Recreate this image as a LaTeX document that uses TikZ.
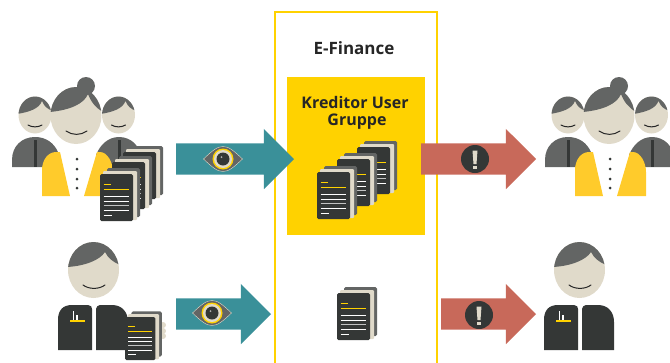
\documentclass[tikz,border=0pt]{standalone}
\usepackage{fontspec}
\setmainfont{Open Sans}
\usetikzlibrary{shapes.arrows}
\definecolor{bankyellow}{HTML}{FFD200}
\definecolor{jacketyellow}{HTML}{FFCB2B}
\definecolor{tealarrow}{HTML}{3A9099}
\definecolor{redarrow}{HTML}{C8695A}
\definecolor{cream}{HTML}{E0DACA}
\definecolor{midgray}{HTML}{636564}
\definecolor{darkgray}{HTML}{343736}
\tikzset{
	blockarrow/.style={single arrow,single arrow head extend=14.5pt,single arrow tip angle=90,
		minimum width=60pt,text height=0pt,text depth=0pt,text width=0pt,inner ysep=15.5pt,inner xsep=0pt,outer sep=0pt,anchor=tail},
	title/.style={font=\bfseries\fontsize{16}{20}\selectfont,text=black!85,inner sep=0pt},
	mouth/.style={draw=black!85,line width=1pt,line cap=round},
	docline/.style={draw=white,line width=1pt},
	docmark/.style={draw=bankyellow,line width=.8pt},
	paper/.pic={
		\fill[midgray,rounded corners=1.5pt] (7,-6) rectangle (40,43);
		\fill[cream,rounded corners=1pt] (3,-3) rectangle (37,46);
		\fill[darkgray,rounded corners=1.5pt] (0,0) rectangle (33,47);
		\draw[docmark] (3.5,10) -- (11,10);
		\draw[docmark] (3.5,15.5) -- (29,15.5);
		\foreach \ly in {22,27,36}
			\draw[docline] (3.5,\ly) -- (29,\ly);
		\draw[docline,draw=white!70!darkgray] (3.5,31.5) -- (29,31.5);
		\draw[docline] (3.5,41) -- (12,41);
	},
	smallhead/.pic={
		\fill[cream] (0,0) ellipse [x radius=16.5,y radius=18.5];
		\begin{scope}
			\clip (0,0) ellipse [x radius=16.5,y radius=18.5];
			\fill[midgray] (-18,-1) .. controls (-6,-3) and (4,-6) .. (7,-14) .. controls (9,-9) and (12,-6) .. (18,-4) -- (18,-20) -- (-18,-20) -- cycle;
		\end{scope}
		\draw[mouth] (-7,10) .. controls (-3,12.5) and (3,12.5) .. (7,10);
	},
	usergroup/.pic={
		\fill[midgray] (12,167) -- (12,160) .. controls (12,146) and (22,137) .. (35,137) .. controls (46,137) and (54,143) .. (58,152) -- (58,167) -- cycle;
		\fill[midgray] (96,167) -- (96,155) .. controls (100,145) and (108,137) .. (119,137) .. controls (131,137) and (141,146) .. (141,160) -- (141,167) -- cycle;
		\fill[darkgray] (33.5,140) rectangle (36.5,167);
		\fill[darkgray] (117.5,140) rectangle (120.5,167);
		\fill[cream] (76,115.5) ellipse [x radius=25.5,y radius=28.5];
		\begin{scope}
			\clip (76,115.5) ellipse [x radius=25.5,y radius=28.5];
			\fill[midgray] (50,112) .. controls (70,110) and (84,104) .. (88,94) .. controls (91,102) and (96,108) .. (103,112) -- (103,84) -- (50,84) -- cycle;
		\end{scope}
		\fill[midgray] (86,86) circle (9);
		\draw[mouth] (66,131) .. controls (72,135.5) and (81,135.5) .. (87,131);
		\fill[jacketyellow] (42,196) -- (42,170) .. controls (42,160) and (48,152) .. (56,152) -- (60,152) -- (70,196) -- cycle;
		\fill[jacketyellow] (84,196) -- (97,152) -- (100,152) .. controls (107,152) and (113,162) .. (113,172) -- (113,196) -- cycle;
		\foreach \by in {159,169,179,188}
			\fill[darkgray] (77,\by) circle (1.5);
	},
	singleuser/.pic={
		\fill[cream] (93.5,270) ellipse [x radius=25.5,y radius=28];
		\begin{scope}
			\clip (93.5,270) ellipse [x radius=25.5,y radius=28];
			\fill[midgray] (67,267) .. controls (85,266) and (100,260) .. (105,252) .. controls (108,258) and (113,262) .. (120,265) -- (120,240) -- (67,240) -- cycle;
		\end{scope}
		\draw[mouth] (83,285) .. controls (89,289.5) and (99,289.5) .. (105,285);
		\fill[darkgray] (58,350) -- (58,320) .. controls (58,310) and (63,305) .. (72,305) -- (88,305) .. controls (91,305) and (92,307) .. (92,309) -- (92,350) -- cycle;
		\fill[darkgray] (96,350) -- (96,309) .. controls (96,307) and (98,305) .. (100,305) -- (112,305) .. controls (122,305) and (128,312) .. (128,322) -- (128,350) -- cycle;
		\draw[bankyellow,line width=1.2pt] (70,321) -- (85,321);
		\fill[white] (72.5,311) rectangle (74,320);
		\fill[white] (76,315) rectangle (77.5,320);
	},
	eyeicon/.pic={
		\fill[midgray,draw=cream,line width=.4pt] (-19.5,0) .. controls (-11,-8) and (-6,-12.5) .. (0,-12.5) .. controls (6,-12.5) and (11,-8) .. (19.5,0) .. controls (11,8) and (6,12.5) .. (0,12.5) .. controls (-6,12.5) and (-11,8) .. (-19.5,0) -- cycle;
		\fill[bankyellow] (0,0) circle (10.5);
		\fill[cream] (0,0) circle (9);
		\fill[darkgray] (0,0) circle (6.5);
		\fill[white!60!darkgray] (-1.5,-2) circle (1);
	},
	warnicon/.pic={
		\fill[darkgray] (0,0) circle (14);
		\fill[cream] (-2.5,-8.5) -- (2.5,-8.5) -- (1.5,5) -- (-1.5,5) -- cycle;
		\fill[cream] (-2,7) rectangle (2,10);
	},
}
\begin{document}
\begin{tikzpicture}[x=1pt,y=-1pt]
	\useasboundingbox (0,0) rectangle (670,362);
	\draw[bankyellow,line width=2pt] (274.5,363) -- (274.5,12) -- (437,12) -- (437,363);
	\fill[bankyellow] (287,77) rectangle (425,235);

	\node[title,font=\bfseries\fontsize{17}{20}\selectfont] (efinance) at (354,48) {E-Finance};
	\node[title] (kreditor) at (355,102) {Kreditor User};
	\node[title] (gruppe) at (357,122) {Gruppe};

	\node[blockarrow,fill=tealarrow,minimum height=118pt] (eyetop) at (176,159) {};
	\node[blockarrow,fill=tealarrow,minimum height=95pt] (eyebottom) at (176,314) {};
	\node[blockarrow,fill=redarrow,minimum height=115pt] (warntop) at (421,159) {};
	\node[blockarrow,fill=redarrow,minimum height=95pt] (warnbottom) at (441,314) {};

	\pic at (223,159) {eyeicon};
	\pic at (212,313) {eyeicon};
	\pic at (475,159) {warnicon};
	\pic at (479,315) {warnicon};

	\pic at (357,147) {paper};
	\pic at (337,159) {paper};
	\pic at (317,172) {paper};
	\pic at (337,293) {paper};

	\pic at (35,115) {smallhead};
	\pic at (118.5,115) {smallhead};
	\pic {usergroup};
	\pic at (123,152) {paper};
	\pic at (112,162) {paper};
	\pic at (100,174) {paper};

	\pic at (568,115) {smallhead};
	\pic at (651.5,115) {smallhead};
	\pic at (533,0) {usergroup};

	\pic {singleuser};
	\foreach \hy in {325,331,336}
		\fill[cream] (163,\hy) circle (3);
	\pic[scale=.92] at (125,317) {paper};
	\pic at (486,0) {singleuser};
\end{tikzpicture}
\end{document}
